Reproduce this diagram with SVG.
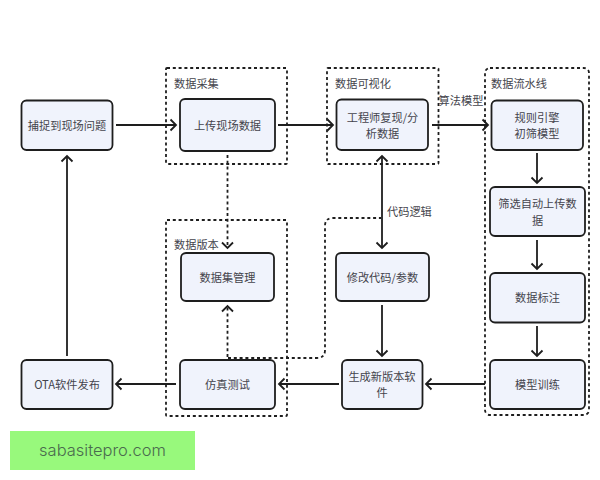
<svg xmlns="http://www.w3.org/2000/svg" width="600" height="480" viewBox="0 0 600 480">
<style>
text{font-family:"Noto Sans CJK SC","Noto Sans",sans-serif;font-size:11.200px;fill:#44444c;text-anchor:middle}
.n{fill:#f0f3fc;stroke:#1e1e1e;stroke-width:1.800}
.g{fill:none;stroke:#1e1e1e;stroke-width:1.800;stroke-dasharray:3 2.800}
.c{fill:none;stroke:#1e1e1e;stroke-width:1.800;marker-end:url(#a)}
.d{fill:none;stroke:#1e1e1e;stroke-width:1.800;stroke-dasharray:3 2.800}
.l{text-anchor:start}
</style>
<defs>
<marker id="a" markerUnits="userSpaceOnUse" markerWidth="12" markerHeight="14" refX="7" refY="6" orient="auto-start-reverse" viewBox="0 0 12 12">
<path d="M1.500 0.500L7 6L1.500 11.500" fill="none" stroke="#1e1e1e" stroke-width="1.800"/>
</marker>
</defs>
<rect width="600" height="480" fill="#fff"/>
<g id="group-collect"><rect class="g" x="166" y="68" width="121" height="96" rx="1"/><text class="l" x="174" y="88">数据采集</text></g>
<g id="group-visual"><rect class="g" x="327" y="68" width="111.500" height="96" rx="1"/><text class="l" x="335" y="88">数据可视化</text></g>
<g id="group-pipeline"><rect class="g" x="485" y="68" width="104" height="347" rx="5"/><text class="l" x="491" y="88">数据流水线</text></g>
<g id="group-version"><rect class="g" x="166" y="220" width="121" height="196" rx="1"/><text class="l" x="174" y="249">数据版本</text></g>
<g id="connectors">
<path class="c" d="M116 125H176"/>
<path class="c" d="M278 125H333"/>
<path class="c" d="M432 125H488"/>
<path class="c" d="M537 153V183"/>
<path class="c" d="M537 240V269"/>
<path class="c" d="M537 326V356"/>
<path class="c" d="M485 384H426"/>
<path class="c" d="M339 384H279"/>
<path class="c" d="M176 384H116"/>
<path class="c" d="M67 356V156"/>
<path class="c" d="M382 305V356"/>
<path class="c" style="marker-start:url(#a)" d="M382 156V248"/>
<path class="d" style="marker-end:url(#a)" d="M227.500 155V248"/>
<path class="d" style="marker-end:url(#a)" d="M227.500 357V306"/>
<path class="d" d="M228 358H317Q325 358 325 350V226Q325 218 333 218H381"/>
</g>
<g id="n-capture"><rect class="n" x="21.500" y="100.500" width="91" height="49.500" rx="5"/><text x="67" y="130">捕捉到现场问题</text></g>
<g id="n-upload"><rect class="n" x="180" y="99" width="95" height="52" rx="5"/><text x="227.500" y="130">上传现场数据</text></g>
<g id="n-engineer"><rect class="n" x="336.500" y="99.500" width="91.500" height="50.500" rx="5"/><text x="382.500" y="122">工程师复现/分</text><text x="382.500" y="138">析数据</text></g>
<g id="n-rules"><rect class="n" x="491.500" y="100.500" width="91.500" height="49.500" rx="5"/><text x="537" y="122">规则引擎</text><text x="537" y="138">初筛模型</text></g>
<g id="n-filter"><rect class="n" x="490" y="187" width="95" height="49" rx="5"/><text x="537.500" y="208">筛选自动上传数</text><text x="537.500" y="225">据</text></g>
<g id="n-label"><rect class="n" x="490" y="273" width="95" height="49.500" rx="5"/><text x="537.500" y="302">数据标注</text></g>
<g id="n-train"><rect class="n" x="490" y="360" width="95" height="49" rx="5"/><text x="537.500" y="389">模型训练</text></g>
<g id="n-build"><rect class="n" x="342" y="360" width="80.500" height="49" rx="5"/><text x="382" y="381">生成新版本软</text><text x="382" y="397">件</text></g>
<g id="n-modify"><rect class="n" x="336" y="253" width="93" height="48" rx="5"/><text x="382.500" y="282">修改代码/参数</text></g>
<g id="n-sim"><rect class="n" x="180" y="360" width="95" height="49" rx="5"/><text x="227.500" y="389">仿真测试</text></g>
<g id="n-ota"><rect class="n" x="21.500" y="360" width="91" height="49" rx="5"/><text x="67" y="389">OTA软件发布</text></g>
<g id="n-dataset"><rect class="n" x="181" y="253" width="93" height="48" rx="5"/><text x="227.500" y="282">数据集管理</text></g>
<text class="l" x="387" y="216">代码逻辑</text>
<text x="461" y="105">算法模型</text>
<g id="watermark"><rect x="10" y="431" width="185" height="39" fill="#98f97c"/><text x="102.500" y="456" style="font-family:Inter,sans-serif;font-size:16.500px;font-weight:300;fill:#4a6a4e">sabasitepro.com</text></g>
</svg>
